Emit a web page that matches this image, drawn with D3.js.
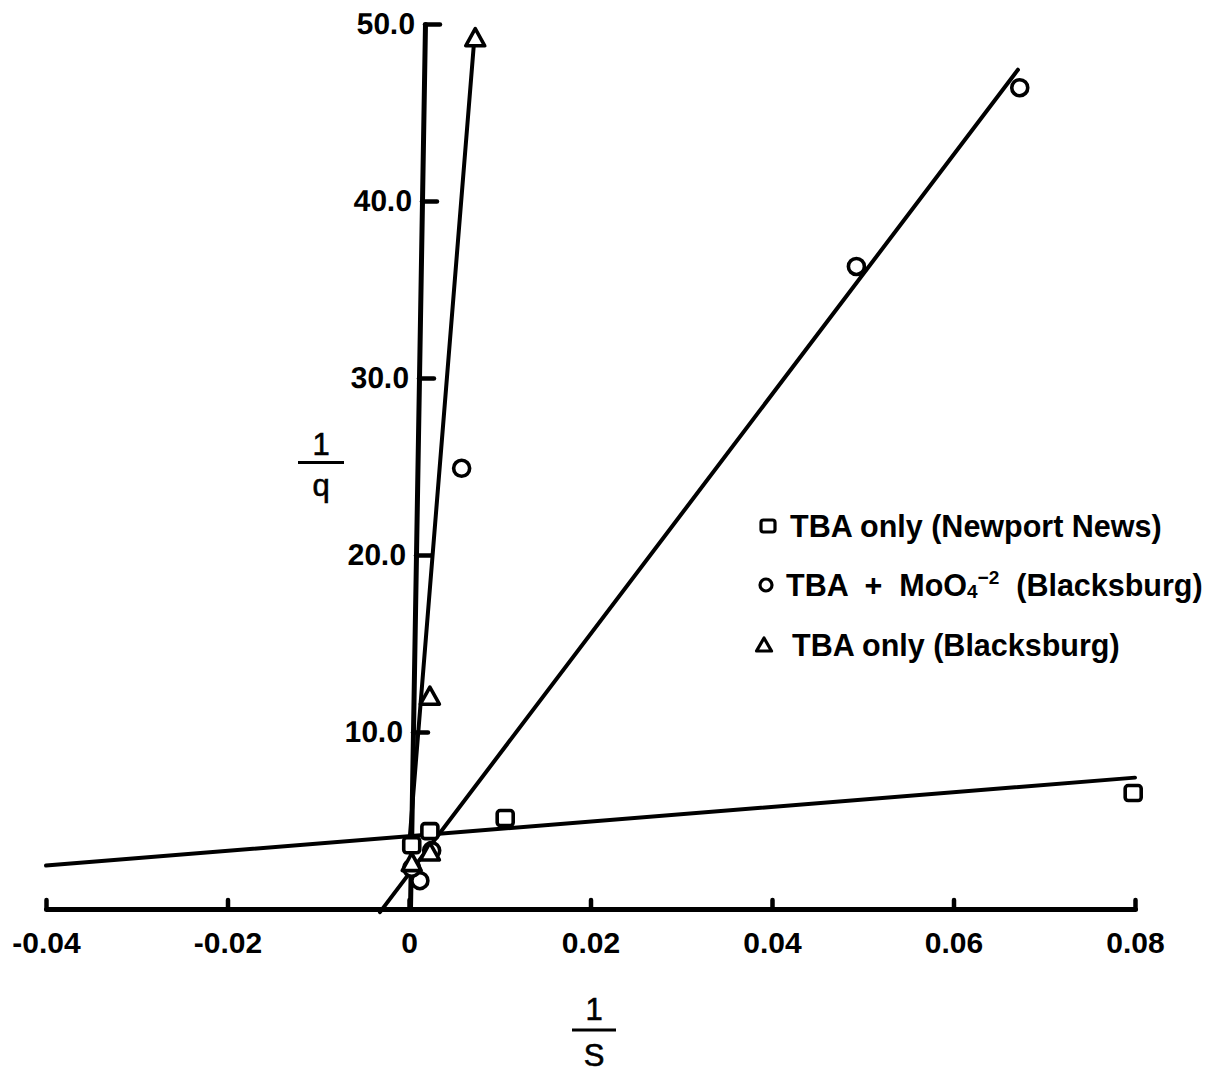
<!DOCTYPE html>
<html>
<head>
<meta charset="utf-8">
<script src="https://cdn.jsdelivr.net/npm/d3@7"></script>
<style>
  html, body { margin: 0; padding: 0; background: #fff; }
  svg { display: block; }
  .tick text { font-family: "Liberation Sans", Arial, sans-serif; font-weight: bold; }
  .legend text { white-space: pre; }
</style>
</head>
<body>
<svg id="chart" width="1215" height="1077"></svg>
<script>
// Double-reciprocal plot: 1/q against 1/S for three TBA sorption runs.

// Axis ticks
const xTicks = [-0.04, -0.02, 0, 0.02, 0.04, 0.06, 0.08];
const xTickLabels = ["-0.04", "-0.02", "0", "0.02", "0.04", "0.06", "0.08"];
const yTicks = [10, 20, 30, 40, 50];
const yTickLabels = ["10.0", "20.0", "30.0", "40.0", "50.0"];

// TBA only (Newport News) — squares
const newportX = [0.0798, 0.0106, 0.0023, 0.0003];
const newportY = [6.55, 5.14, 4.4, 3.6];

// TBA + MoO4(-2) (Blacksburg) — circles
const molybdateX = [0.0673, 0.0493, 0.0058, 0.0025, 0.0012, 0.0003];
const molybdateY = [46.4, 36.3, 24.9, 3.3, 1.6, 2.3];

// TBA only (Blacksburg) — triangles
const blacksburgX = [0.0073, 0.0023, 0.0023, 0.0003];
const blacksburgY = [49.2, 12.0, 3.2, 2.6];

// Least-squares lines: 1/q = intercept + slope * (1/S)
const fitNames = ["newport", "molybdate", "blacksburg"];
const fitIntercepts = [4.11, 1.99, 3.5];
const fitSlopes = [41.4, 677, 6344];
const fitFrom = [-0.04, -0.0032, 0];
const fitTo = [0.08, 0.0671, 0.00727];

// Legend
const legendShapes = ["square", "circle", "triangle"];

const svg = d3.select("#chart");
const font = '"Liberation Sans", Arial, sans-serif';

const x = d3.scaleLinear().domain([-0.04, 0.08]).range([46, 1135]);
const y = d3.scaleLinear().domain([0, 50]).range([909, 24]);

// ---- x axis (ticks pointing up, labels below) ----
const xAxis = d3.axisBottom(x)
  .tickValues(xTicks)
  .tickFormat((d, i) => xTickLabels[i])
  .tickSizeInner(-9)
  .tickSizeOuter(0)
  .tickPadding(23);

const gx = svg.append("g")
  .attr("transform", `translate(0,${y(0)})`)
  .call(xAxis);
gx.select(".domain").attr("stroke-width", 5).attr("stroke-linecap", "round");
gx.selectAll(".tick line").attr("stroke-width", 4.5).attr("stroke-linecap", "round");
gx.selectAll(".tick text").attr("font-size", 30).attr("fill", "#000");

// ---- y axis (hand-ruled, leans slightly to the right) ----
const lean = 15; // horizontal drift of the axis over its full height
const tanA = lean / (y(50) - y(0));
const skewDeg = Math.atan(tanA) * 180 / Math.PI;
const yAxisX = x(0) + 1 - tanA * y(0);

const yAxis = d3.axisLeft(y)
  .tickValues(yTicks)
  .tickFormat((d, i) => yTickLabels[i])
  .tickSizeInner(-15)
  .tickSizeOuter(0)
  .tickPadding(10);

const gy = svg.append("g")
  .attr("transform", `translate(${yAxisX},0) skewX(${skewDeg})`)
  .call(yAxis);
gy.select(".domain").attr("stroke-width", 5).attr("stroke-linecap", "round");
gy.selectAll(".tick line").attr("stroke-width", 4.5).attr("stroke-linecap", "round");
gy.selectAll(".tick text").attr("font-size", 30).attr("fill", "#000");

// ---- fitted lines ----
const lineGen = d3.line().x(d => x(d[0])).y(d => y(d[1]));
fitNames.forEach((name, i) => {
  const pts = [fitFrom[i], fitTo[i]].map(v => [v, fitIntercepts[i] + fitSlopes[i] * v]);
  svg.append("path")
    .attr("class", "fit " + name)
    .attr("d", lineGen(pts))
    .attr("fill", "none")
    .attr("stroke", "#000")
    .attr("stroke-width", 4)
    .attr("stroke-linecap", "round");
});

// ---- markers ----
function drawMarker(g, shape, cx, cy) {
  if (shape === "square") {
    g.append("rect")
      .attr("x", cx - 8).attr("y", cy - 7.5).attr("width", 16).attr("height", 15)
      .attr("rx", 3)
      .attr("fill", "#fff").attr("stroke", "#000").attr("stroke-width", 3.6);
  } else if (shape === "circle") {
    g.append("circle")
      .attr("cx", cx).attr("cy", cy).attr("r", 8)
      .attr("fill", "#fff").attr("stroke", "#000").attr("stroke-width", 3.6);
  } else {
    const s = 9.5;
    g.append("path")
      .attr("d", `M${cx},${cy - s}L${cx + s},${cy + s * 0.8}L${cx - s},${cy + s * 0.8}Z`)
      .attr("fill", "#fff").attr("stroke", "#000").attr("stroke-width", 3.6)
      .attr("stroke-linejoin", "round");
  }
}

const marks = svg.append("g").attr("class", "marks");
newportX.forEach((v, i) => drawMarker(marks, "square", x(v), y(newportY[i])));
molybdateX.forEach((v, i) => drawMarker(marks, "circle", x(v), y(molybdateY[i])));
blacksburgX.forEach((v, i) => drawMarker(marks, "triangle", x(v), y(blacksburgY[i])));

// ---- axis titles as fractions ----
function fraction(cx, topBaseline, barY, bottomBaseline, num, den, half) {
  const g = svg.append("g");
  g.append("text").attr("x", cx).attr("y", topBaseline)
    .attr("text-anchor", "middle").attr("font-family", font).attr("font-size", 31)
    .attr("stroke", "#000").attr("stroke-width", 0.6)
    .text(num);
  g.append("line").attr("x1", cx - half).attr("x2", cx + half)
    .attr("y1", barY).attr("y2", barY)
    .attr("stroke", "#000").attr("stroke-width", 3);
  g.append("text").attr("x", cx).attr("y", bottomBaseline)
    .attr("text-anchor", "middle").attr("font-family", font).attr("font-size", 31)
    .attr("stroke", "#000").attr("stroke-width", 0.6)
    .text(den);
}
fraction(321, 455, 462.5, 496, "1", "q", 23);
fraction(594, 1020, 1030, 1066, "1", "S", 22);

// ---- legend ----
const legend = svg.append("g").attr("class", "legend");
const legendY = [526, 585, 645];
const legendMarkX = [768, 766, 764];
legendShapes.forEach((shape, i) => {
  if (shape === "triangle") {
    legend.append("path")
      .attr("d", `M${legendMarkX[i]},${legendY[i] - 7}L${legendMarkX[i] + 7.5},${legendY[i] + 6}L${legendMarkX[i] - 7.5},${legendY[i] + 6}Z`)
      .attr("fill", "#fff").attr("stroke", "#000").attr("stroke-width", 3.2)
      .attr("stroke-linejoin", "round");
  } else if (shape === "square") {
    legend.append("rect")
      .attr("x", legendMarkX[i] - 7).attr("y", legendY[i] - 6).attr("width", 14).attr("height", 12)
      .attr("rx", 2.5)
      .attr("fill", "#fff").attr("stroke", "#000").attr("stroke-width", 3.2);
  } else {
    legend.append("circle")
      .attr("cx", legendMarkX[i]).attr("cy", legendY[i]).attr("r", 6)
      .attr("fill", "#fff").attr("stroke", "#000").attr("stroke-width", 3.2);
  }
});

function legendText(xPos, yPos) {
  return legend.append("text")
    .attr("x", xPos).attr("y", yPos).attr("dy", "0.36em")
    .attr("font-family", font).attr("font-weight", "bold").attr("font-size", 30.5)
    .attr("fill", "#000");
}
legendText(790, legendY[0]).text("TBA only (Newport News)");
const t2 = legendText(786, legendY[1]);
t2.append("tspan").text("TBA  +  MoO");
t2.append("tspan").attr("font-size", 19).attr("dy", 2).text("4");
t2.append("tspan").attr("font-size", 19).attr("dy", -14).text("−2");
t2.append("tspan").attr("dy", 12).text("  (Blacksburg)");
legendText(792, legendY[2]).text("TBA only (Blacksburg)");
</script>
</body>
</html>
